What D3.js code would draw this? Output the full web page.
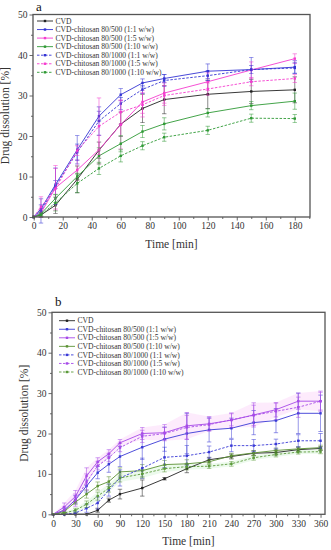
<!DOCTYPE html>
<html>
<head>
<meta charset="utf-8">
<script src="https://cdn.jsdelivr.net/npm/d3@7"></script>
<style>
  body { margin: 0; background: #fff; }
  svg { display: block; font-family: "Liberation Serif", "Times New Roman", serif; font-weight: normal; }
</style>
</head>
<body>
<svg width="331" height="550"></svg>
<script>
// ---- panel a data (0-180 min)
const timesA = [0, 5, 15, 30, 45, 60, 75, 90, 120, 150, 180]
const cvdA = [0, 0.5, 2.9, 9.3, 16.5, 22.9, 26.8, 29, 30.3, 31, 31.4]
const c500_11A = [0, 2, 8, 16.6, 24.9, 30.2, 33.1, 34.2, 36, 36.4, 37]
const c500_15A = [0, 1, 7.2, 11.6, 16.6, 22.8, 28.4, 30.6, 33.4, 36.3, 39.1]
const c500_110A = [0, 0.8, 4.6, 10, 15.1, 18.1, 21.1, 23, 25.7, 27.5, 28.6]
const c1000_11A = [0, 1.5, 7.6, 16, 23.7, 28, 31.5, 33.7, 34.9, 36.4, 36.8]
const c1000_15A = [0, 2.5, 7, 16.4, 22.4, 25.9, 27.7, 30, 31.6, 33.4, 34.2]
const c1000_110A = [0, 0.5, 3.5, 8.3, 12, 15.1, 17.6, 19.7, 21.4, 24.4, 24.3]

const cvdErrA = [0, 0.5, 2, 3.3, 2, 3, 3.5, 3.5, 3.5, 3, 3.2]
const c500_11ErrA = [0, 1, 1, 3.5, 1.2, 1.5, 1, 1, 1.8, 3, 1.6]
const c500_15ErrA = [0, 1, 5.5, 2.5, 3.5, 6, 2.8, 2.5, 2.2, 2, 1.2]
const c500_110ErrA = [0, 0.5, 1, 0.8, 2, 2, 1.5, 1.5, 1, 1, 2]
const c1000_11ErrA = [0, 3, 4.5, 2, 3.5, 1.5, 1, 1.5, 1.2, 1, 1.3]
const c1000_15ErrA = [0, 2.5, 5, 1.2, 7, 3, 3, 2.5, 1.5, 1, 1]
const c1000_110ErrA = [0, 0.5, 2, 2.3, 1.5, 1.5, 1, 1, 1, 1, 1]

// ---- panel b data (0-360 min)
const timesB = [0, 15, 30, 45, 60, 75, 90, 120, 150, 180, 210, 240, 270, 300, 330, 360]
const cvdB = [0, 0, 0, 0, 1, 3.5, 5, 6.5, 8.8, 11.3, 13.5, 14.3, 15.1, 15.3, 16, 16.3]
const c500_11B = [0, 1, 3.6, 7, 10.3, 12.4, 14.3, 16.6, 18.6, 20, 20.9, 21.3, 22.7, 23.2, 25, 25]
const c500_15B = [0, 1.8, 4.4, 9.5, 13, 15, 17.7, 20, 20.2, 21.9, 22.4, 23.3, 24.6, 25.9, 28, 28]
const c500_110B = [0, 0.7, 3, 5, 7, 8.1, 10.5, 10.8, 12.3, 12.5, 13, 14.5, 15.2, 15.8, 16.2, 16.5]
const c1000_11B = [0, 0, 0.3, 1.5, 2.8, 6, 9, 11.4, 14.1, 14.5, 15.4, 17, 17, 17.4, 18.2, 18.2]
const c1000_15B = [0, 1, 3.5, 8, 12, 14, 16.5, 19.3, 20, 21.5, 22.2, 23.4, 24.5, 25.5, 26.5, 28]
const c1000_110B = [0, 0.3, 1, 2.5, 4.5, 6.5, 9, 10, 11.3, 11.8, 11.9, 12.5, 14, 14.8, 15.4, 15.5]

const cvdErrB = [0, 0, 0, 0, 0.5, 0.5, 1.2, 2, 0.3, 1, 0.6, 0.6, 0.6, 0.6, 0.5, 0.5]
const c500_11ErrB = [0, 0.5, 1, 1.5, 1.5, 2, 2.5, 3, 3, 5, 3, 2.5, 3, 3, 5, 4.5]
const c500_15ErrB = [0, 1, 1.5, 2, 1, 1, 0.8, 1.5, 2, 3.3, 1.8, 1.8, 3, 1.8, 2, 2.5]
const c500_110ErrB = [0, 0.3, 0.5, 1, 1, 1.2, 1, 1.5, 1, 1, 0.6, 0.6, 0.6, 0.6, 0.6, 0.6]
const c1000_11ErrB = [0, 0, 0.3, 1, 1.5, 1.5, 2, 2.5, 2.5, 2.5, 1.5, 1.5, 1.5, 1.2, 1.5, 1.8]
const c1000_15ErrB = [0, 0.8, 1.5, 2, 1, 1, 1, 1.5, 1.5, 3, 1.5, 1.5, 2.5, 2, 2.5, 2.2]
const c1000_110ErrB = [0, 0.2, 0.5, 0.8, 1, 1, 1, 1, 0.8, 0.8, 0.6, 0.6, 0.6, 0.6, 0.5, 0.5]

const seriesNames = [
  'CVD',
  'CVD-chitosan 80/500 (1:1 w/w)',
  'CVD-chitosan 80/500 (1:5 w/w)',
  'CVD-chitosan 80/500 (1:10 w/w)',
  'CVD-chitosan 80/1000 (1:1 w/w)',
  'CVD-chitosan 80/1000 (1:5 w/w)',
  'CVD-chitosan 80/1000 (1:10 w/w)'
]
const dashed = [false, false, false, false, true, true, true]
const colorsA = ['#222', '#3434d4', '#f53ccf', '#2f9a35', '#3434d4', '#f53ccf', '#2f9a35']
const colorsB = ['#222', '#3a3ad6', '#a74ae8', '#5b9233', '#3a3ad6', '#a74ae8', '#5b9a3a']

const svg = d3.select('svg')

const drawPanel = (opt) => {
  const x = d3.scaleLinear().domain(opt.xDomain).range([opt.left, opt.right])
  const y = d3.scaleLinear().domain([0, 50]).range([opt.bottom, opt.top])
  const g = svg.append('g')

  // shaded bands (panel b only)
  opt.bands.forEach(b => {
    const area = d3.area()
      .x((d, i) => x(opt.times[i]))
      .y0((d, i) => y(Math.max(0, d - b.err[i])))
      .y1((d, i) => y(d + b.err[i]))
    g.append('path').attr('d', area(b.values))
      .attr('fill', b.fill).attr('opacity', b.opacity)
  })

  const line = d3.line().x((d, i) => x(opt.times[i])).y(d => y(d))

  opt.series.forEach((s, k) => {
    const col = opt.colors[k]
    const sg = g.append('g')
    // error bars
    s.forEach((v, i) => {
      const e = opt.errs[k][i]
      if (e <= 0) return
      const cx = x(opt.times[i])
      sg.append('line').attr('x1', cx).attr('x2', cx)
        .attr('y1', y(v - e)).attr('y2', y(v + e))
        .attr('stroke', col).attr('stroke-width', 0.7).attr('opacity', 0.75)
      ;[v - e, v + e].forEach(t => {
        sg.append('line').attr('x1', cx - 2.2).attr('x2', cx + 2.2)
          .attr('y1', y(t)).attr('y2', y(t))
          .attr('stroke', col).attr('stroke-width', 0.7).attr('opacity', 0.75)
      })
    })
    sg.append('path').attr('d', line(s))
      .attr('fill', 'none').attr('stroke', col).attr('stroke-width', 0.9)
      .attr('stroke-dasharray', dashed[k] ? '2.5,1.5' : null)
    sg.selectAll('rect').data(s).enter().append('rect')
      .attr('x', (d, i) => x(opt.times[i]) - 1.2)
      .attr('y', d => y(d) - 1.2)
      .attr('width', 2.4).attr('height', 2.4)
      .attr('fill', col)
  })

  // axes
  const xAxis = d3.axisBottom(x).tickValues(opt.xTicks).tickSize(3.5).tickPadding(2)
  const xMinor = d3.axisBottom(x).tickValues(opt.xMinor).tickSize(2).tickFormat('')
  const yAxis = d3.axisLeft(y).tickValues([0, 10, 20, 30, 40, 50]).tickSize(3.5).tickPadding(2)
  const yMinor = d3.axisLeft(y).tickValues([5, 15, 25, 35, 45]).tickSize(2).tickFormat('')

  const styleAxis = sel => {
    sel.select('.domain').remove()
    sel.selectAll('line').attr('stroke', '#444').attr('stroke-width', 0.8)
    sel.selectAll('text').attr('font-size', 9.5).attr('fill', '#333')
      .attr('font-family', '"Liberation Serif", serif')
  }
  g.append('g').attr('transform', `translate(0,${opt.bottom})`).call(xAxis).call(styleAxis)
  g.append('g').attr('transform', `translate(0,${opt.bottom})`).call(xMinor).call(styleAxis)
  g.append('g').attr('transform', `translate(${opt.left},0)`).call(yAxis).call(styleAxis)
  g.append('g').attr('transform', `translate(${opt.left},0)`).call(yMinor).call(styleAxis)

  g.append('rect')
    .attr('x', opt.left).attr('y', opt.top)
    .attr('width', opt.right - opt.left).attr('height', opt.bottom - opt.top)
    .attr('fill', 'none').attr('stroke', '#555').attr('stroke-width', 1.3)

  // titles
  g.append('text').attr('x', (opt.left + opt.right) / 2).attr('y', opt.bottom + 31)
    .attr('text-anchor', 'middle').attr('font-size', 11.5).attr('fill', '#333')
    .text('Time [min]')
  g.append('text')
    .attr('transform', `translate(${opt.yTitleX},${(opt.top + opt.bottom) / 2}) rotate(-90)`)
    .attr('text-anchor', 'middle').attr('font-size', 11.5).attr('fill', '#333')
    .text('Drug dissolution [%]')
  g.append('text').attr('x', opt.left + 3).attr('y', opt.labelY)
    .attr('font-size', 13).attr('fill', '#111').text(opt.label)

  // legend
  seriesNames.forEach((name, k) => {
    const ly = opt.legendY + k * 8.55
    const lg = g.append('g')
    lg.append('line').attr('x1', opt.legendX).attr('x2', opt.legendX + 16)
      .attr('y1', ly).attr('y2', ly)
      .attr('stroke', opt.colors[k]).attr('stroke-width', 0.9)
      .attr('stroke-dasharray', dashed[k] ? '2.5,1.5' : null)
    lg.append('rect').attr('x', opt.legendX + 6.8).attr('y', ly - 1.2)
      .attr('width', 2.4).attr('height', 2.4).attr('fill', opt.colors[k])
    lg.append('text').attr('x', opt.legendX + 18.5).attr('y', ly + 2.6)
      .attr('font-size', 7.6).attr('fill', '#333').text(name)
  })
}

drawPanel({
  label: 'a',
  labelY: 11,
  times: timesA,
  series: [cvdA, c500_11A, c500_15A, c500_110A, c1000_11A, c1000_15A, c1000_110A],
  errs: [cvdErrA, c500_11ErrA, c500_15ErrA, c500_110ErrA, c1000_11ErrA, c1000_15ErrA, c1000_110ErrA],
  colors: colorsA,
  bands: [],
  xDomain: [-0.5, 190.5],
  xTicks: d3.range(0, 181, 20),
  xMinor: d3.range(10, 191, 20),
  left: 33, right: 310, top: 14.5, bottom: 217,
  yTitleX: 9,
  legendX: 37, legendY: 21
})

drawPanel({
  label: 'b',
  labelY: 306,
  times: timesB,
  series: [cvdB, c500_11B, c500_15B, c500_110B, c1000_11B, c1000_15B, c1000_110B],
  errs: [cvdErrB, c500_11ErrB, c500_15ErrB, c500_110ErrB, c1000_11ErrB, c1000_15ErrB, c1000_110ErrB],
  colors: colorsB,
  bands: [
    {values: c500_15B, err: c500_15ErrB, fill: '#f4a6f0', opacity: 0.22},
    {values: c1000_110B, err: c1000_110ErrB, fill: '#bfeebf', opacity: 0.3}
  ],
  xDomain: [-1.5, 366],
  xTicks: d3.range(0, 361, 30),
  xMinor: d3.range(15, 361, 30),
  left: 52, right: 325, top: 312.3, bottom: 514.3,
  yTitleX: 28,
  legendX: 59, legendY: 320.7
})
</script>
</body>
</html>
